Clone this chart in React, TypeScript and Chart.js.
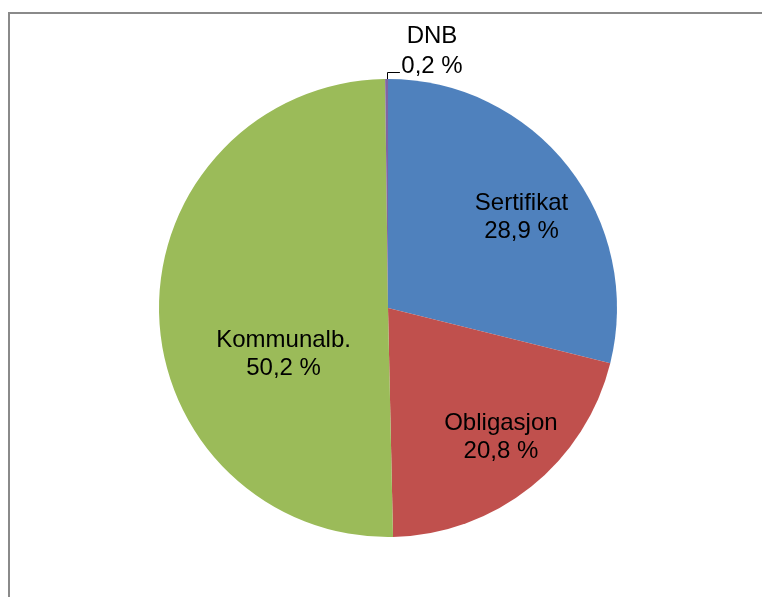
import React, { useEffect, useRef } from "react";
import { Chart, registerables } from "chart.js";

Chart.register(...registerables);

const categories = ["Sertifikat", "Obligasjon", "Kommunalb.", "DNB"];
const shares = [28.9, 20.8, 50.2, 0.2];
const shareLabels = ["28,9 %", "20,8 %", "50,2 %", "0,2 %"];
const colors = ["#4F81BD", "#C0504D", "#9BBB59", "#8064A2"];
// label centre offsets, as fractions of the pie radius
const labelOffsetX = [0.583, 0.493, -0.456, 0.192];
const labelOffsetY = [-0.397, 0.563, 0.201, -1.122];

const FONT = "24px 'Liberation Sans', Arial, sans-serif";

const labelPlugin = {
  id: "pieLabels",
  beforeDraw(chart: any) {
    const ctx = chart.ctx;
    ctx.save();
    ctx.strokeStyle = "#8a8a8a";
    ctx.lineWidth = 2;
    ctx.beginPath();
    ctx.moveTo(9, chart.height + 5);
    ctx.lineTo(9, 13);
    ctx.lineTo(chart.width + 5, 13);
    ctx.stroke();
    ctx.restore();
  },
  afterDatasetsDraw(chart: any) {
    const ctx = chart.ctx;
    const meta = chart.getDatasetMeta(0);
    const first = meta.data[0];
    const cx = first.x;
    const cy = first.y;
    const r = first.outerRadius;
    ctx.save();
    ctx.font = FONT;
    ctx.fillStyle = "#000";
    ctx.textAlign = "center";
    ctx.textBaseline = "middle";
    const lh = 28;
    categories.forEach((name, i) => {
      const x = cx + labelOffsetX[i] * r;
      const y = cy + labelOffsetY[i] * r;
      const gap = i === 3 ? 30 : lh;
      ctx.fillText(name, x, y - gap / 2);
      ctx.fillText(shareLabels[i], x, y + gap / 2);
    });
    // leader line for the tiny slice
    const small = meta.data[3];
    const mid = (small.startAngle + small.endAngle) / 2;
    const sx = cx + Math.cos(mid) * r;
    const sy = cy + Math.sin(mid) * r;
    const ly = cy - 1.031 * r;
    const lx = cx + 0.052 * r;
    ctx.strokeStyle = "#000";
    ctx.lineWidth = 1;
    ctx.beginPath();
    ctx.moveTo(Math.round(sx) + 0.5, sy);
    ctx.lineTo(Math.round(sx) + 0.5, Math.round(ly) + 0.5);
    ctx.lineTo(lx, Math.round(ly) + 0.5);
    ctx.stroke();
    ctx.restore();
  },
};

export default function App() {
  const ref = useRef<HTMLCanvasElement>(null);
  useEffect(() => {
    if (!ref.current) return;
    const chart = new Chart(ref.current, {
      type: "pie",
      data: {
        labels: categories,
        datasets: [
          {
            data: shares,
            backgroundColor: colors,
            borderWidth: 0,
          },
        ],
      },
      options: {
        animation: false,
        responsive: false,
        maintainAspectRatio: false,
        rotation: 0,
        layout: { padding: { left: 100, right: 86, top: 79, bottom: 60 } },
        plugins: {
          legend: { display: false },
          tooltip: { enabled: false },
        },
      },
      plugins: [labelPlugin],
    });
    return () => chart.destroy();
  }, []);
  return (
    <div style={{ position: "absolute", left: 0, top: 0, width: 762, height: 597, background: "#fff" }}>
      <canvas ref={ref} width={762} height={597} style={{ display: "block", width: 762, height: 597 }} />
    </div>
  );
}
